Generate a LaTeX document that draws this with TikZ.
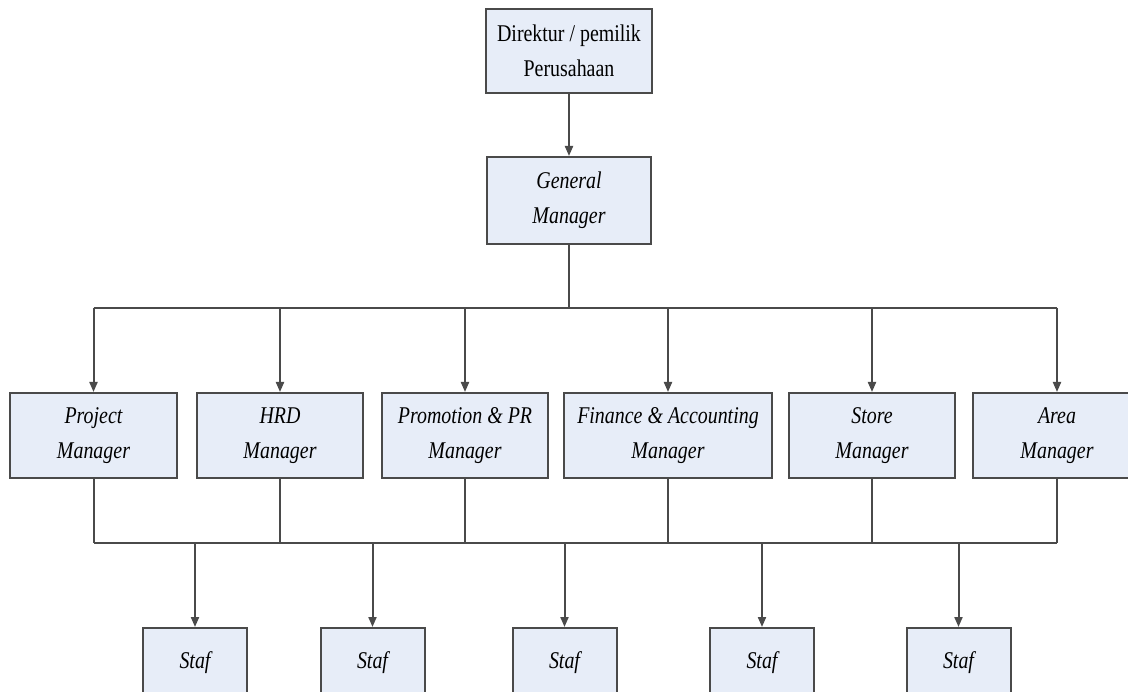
\documentclass[tikz,border=0pt]{standalone}
\usepackage{fontspec}
\setmainfont{Liberation Serif}[FakeStretch=0.83]
\usetikzlibrary{arrows.meta}
\definecolor{boxfill}{HTML}{E7EDF8}
\definecolor{boxline}{HTML}{4A4A4A}
\tikzset{
  orgbox/.style={draw=boxline, line width=2pt, fill=boxfill, align=center,
    font=\fontsize{24}{35}\selectfont\itshape, inner sep=0pt},
  topbox/.style={orgbox, font=\fontsize{24}{35}\selectfont\upshape},
  mgrbox/.style={orgbox, minimum height=85pt},
  stafbox/.style={orgbox, minimum width=104pt, minimum height=85pt, text height=16pt, text depth=21pt},
  conn/.style={draw=boxline, line width=2pt},
  arr/.style={conn, -{Triangle[width=8pt,length=10pt]}}
}
\begin{document}
\begin{tikzpicture}[x=1pt,y=-1pt]
\useasboundingbox (0,0) rectangle (1128,692);
\fill[white] (0,0) rectangle (1128,692);
\begin{scope}
\clip (0,0) rectangle (1128,692);
\node[topbox, minimum width=166pt, minimum height=84pt] (dir) at (569,51) {Direktur / pemilik\\Perusahaan};
\node[orgbox, minimum width=164pt, minimum height=87pt] (gm) at (569,200.5) {General\\Manager};

\node[mgrbox, minimum width=167pt] (pm) at (93.5,435.5) {Project\\Manager};
\node[mgrbox, minimum width=166pt] (hrd) at (280,435.5) {HRD\\Manager};
\node[mgrbox, minimum width=166pt] (pr) at (465,435.5) {Promotion \& PR\\Manager};
\node[mgrbox, minimum width=208pt] (fa) at (668,435.5) {Finance \& Accounting\\Manager};
\node[mgrbox, minimum width=166pt] (sm) at (872,435.5) {Store\\Manager};
\node[mgrbox, minimum width=168pt] (am) at (1057,435.5) {Area\\Manager};

\node[stafbox] (s1) at (195,670.5) {Staf};
\node[stafbox] (s2) at (372.5,670.5) {Staf};
\node[stafbox] (s3) at (564.5,670.5) {Staf};
\node[stafbox] (s4) at (762,670.5) {Staf};
\node[stafbox] (s5) at (958.5,670.5) {Staf};

\coordinate (j1) at (569,308);
\coordinate (j2) at (569,543);

\draw[arr] (dir.south) -- (gm.north);
\draw[conn] (gm.south) -- (j1);
\draw[conn] (pm.north |- j1) -- (am.north |- j1);
\foreach \m in {pm,hrd,pr,fa,sm,am}{
  \draw[arr] (\m.north |- j1) -- (\m.north);
  \draw[conn] (\m.south) -- (\m.south |- j2);
}
\draw[conn] (pm.south |- j2) -- (am.south |- j2);
\foreach \s in {s1,s2,s3,s4,s5}{
  \draw[arr] (\s.north |- j2) -- (\s.north);
}
\end{scope}
\end{tikzpicture}
\end{document}
